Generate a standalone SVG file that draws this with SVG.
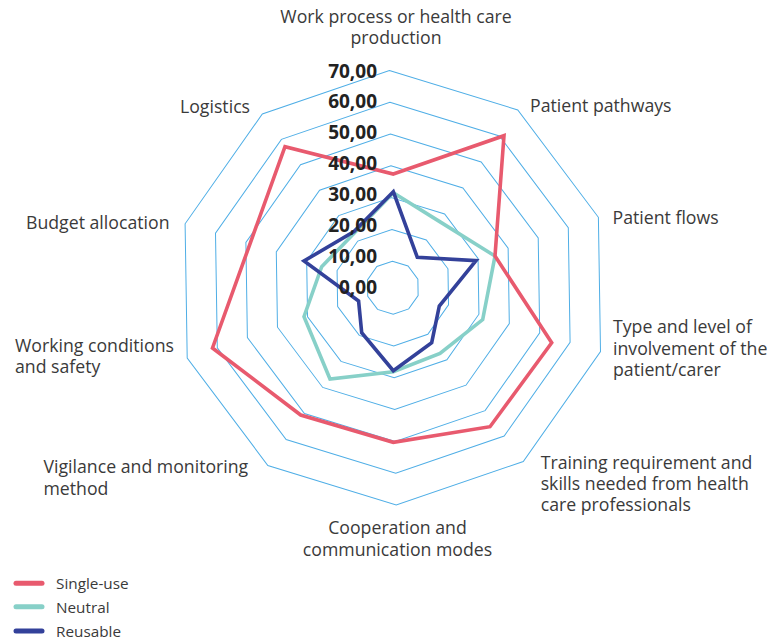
<svg xmlns="http://www.w3.org/2000/svg" width="767" height="641" viewBox="0 0 767 641">
<style>
.ring{fill:none;stroke:#4FAEE6;stroke-width:1}
.s{fill:none;stroke-width:3.6;stroke-linejoin:miter;stroke-miterlimit:10}
.red{stroke:#E85A6E}
.teal{stroke:#87D0C8}
.navy{stroke:#33419A}
.lab{font-family:"Open Sans","Noto Sans","DejaVu Sans",sans-serif;font-size:17.7px;fill:#3a3a3a}
.tick{font-family:"Open Sans","Noto Sans","DejaVu Sans",sans-serif;font-size:19px;font-weight:700;fill:#222;text-anchor:end}
.leg{font-family:"Open Sans","Noto Sans","DejaVu Sans",sans-serif;font-size:15.3px;fill:#3a3a3a}
.sw{stroke-width:5;stroke-linecap:round}
</style>
<rect width="767" height="641" fill="#fff"/>
<g id="grid" transform="translate(392.8 287.7) rotate(-0.9)">
<polygon class="ring" points="0,-26.5 15.58,-21.44 25.2,-8.19 25.2,8.19 15.58,21.44 0,26.5 -15.58,21.44 -25.2,8.19 -25.2,-8.19 -15.58,-21.44"/>
<polygon class="ring" points="0,-58.3 34.27,-47.17 55.45,-18.02 55.45,18.02 34.27,47.17 0,58.3 -34.27,47.17 -55.45,18.02 -55.45,-18.02 -34.27,-47.17"/>
<polygon class="ring" points="0,-90.1 52.96,-72.89 85.69,-27.84 85.69,27.84 52.96,72.89 0,90.1 -52.96,72.89 -85.69,27.84 -85.69,-27.84 -52.96,-72.89"/>
<polygon class="ring" points="0,-121.9 71.65,-98.62 115.93,-37.67 115.93,37.67 71.65,98.62 0,121.9 -71.65,98.62 -115.93,37.67 -115.93,-37.67 -71.65,-98.62"/>
<polygon class="ring" points="0,-153.7 90.34,-124.35 146.18,-47.5 146.18,47.5 90.34,124.35 0,153.7 -90.34,124.35 -146.18,47.5 -146.18,-47.5 -90.34,-124.35"/>
<polygon class="ring" points="0,-185.5 109.03,-150.07 176.42,-57.32 176.42,57.32 109.03,150.07 0,185.5 -109.03,150.07 -176.42,57.32 -176.42,-57.32 -109.03,-150.07"/>
<polygon class="ring" points="0,-217.3 127.73,-175.8 206.67,-67.15 206.67,67.15 127.73,175.8 0,217.3 -127.73,175.8 -206.67,67.15 -206.67,-67.15 -127.73,-175.8"/>
</g>
<g id="series">
<polygon id="neutral" class="s teal" points="393.3,192.7 440.5,222.1 495,256 482.7,319.6 440,353.3 393.3,371.7 330,379 304,316.7 321.7,266.7 353.6,233.7"/>
<polygon id="reusable" class="s navy" points="393.3,191.7 417.3,257.3 476,260.7 439.3,306 431.7,342.7 393.3,370.7 361.7,332.7 358.6,301 304,261 354,231.5"/>
<polygon id="single-use" class="s red" points="393.3,174 504,135.7 495,256 551.7,342.7 490,426.7 393.3,442.3 300.7,415 212.5,348 250.8,241.6 285,146.7"/>
</g>
<g id="ticks">
<text class="tick" x="377" y="77.5">70,00</text>
<text class="tick" x="377" y="108.4">60,00</text>
<text class="tick" x="377" y="139.3">50,00</text>
<text class="tick" x="377" y="170.1">40,00</text>
<text class="tick" x="377" y="201">30,00</text>
<text class="tick" x="377" y="231.8">20,00</text>
<text class="tick" x="377" y="262.7">10,00</text>
<text class="tick" x="377" y="293.5">0,00</text>
</g>
<g id="labels">
<g id="lab-work"><text class="lab" x="396" y="22.7" text-anchor="middle">Work process or health care</text><text class="lab" x="396" y="43.5" text-anchor="middle">production</text></g>
<g id="lab-pathways"><text class="lab" x="530" y="112">Patient pathways</text></g>
<g id="lab-flows"><text class="lab" x="612.5" y="223.5">Patient flows</text></g>
<g id="lab-type"><text class="lab" x="613" y="333.3">Type and level of</text><text class="lab" x="613" y="354.5">involvement of the</text><text class="lab" x="613" y="375.5">patient/carer</text></g>
<g id="lab-training"><text class="lab" x="540.7" y="468.5">Training requirement and</text><text class="lab" x="540.7" y="489.5">skills needed from health</text><text class="lab" x="540.7" y="510.7">care professionals</text></g>
<g id="lab-coop"><text class="lab" x="397.5" y="534" text-anchor="middle">Cooperation and</text><text class="lab" x="397.5" y="555.8" text-anchor="middle">communication modes</text></g>
<g id="lab-vigilance"><text class="lab" x="43.5" y="473.3">Vigilance and monitoring</text><text class="lab" x="43.5" y="495">method</text></g>
<g id="lab-working"><text class="lab" x="15" y="351.7">Working conditions</text><text class="lab" x="15" y="373.3">and safety</text></g>
<g id="lab-budget"><text class="lab" x="26" y="229.3">Budget allocation</text></g>
<g id="lab-logistics"><text class="lab" x="180" y="112.5">Logistics</text></g>
</g>
<g id="legend">
<line class="sw red" x1="16" y1="583.3" x2="42" y2="583.3"/>
<line class="sw teal" x1="16" y1="606.8" x2="42" y2="606.8"/>
<line class="sw navy" x1="16" y1="631" x2="42" y2="631"/>
<text class="leg" x="56" y="588.5">Single-use</text>
<text class="leg" x="56" y="612.5">Neutral</text>
<text class="leg" x="56" y="636.5">Reusable</text>
</g>
</svg>
